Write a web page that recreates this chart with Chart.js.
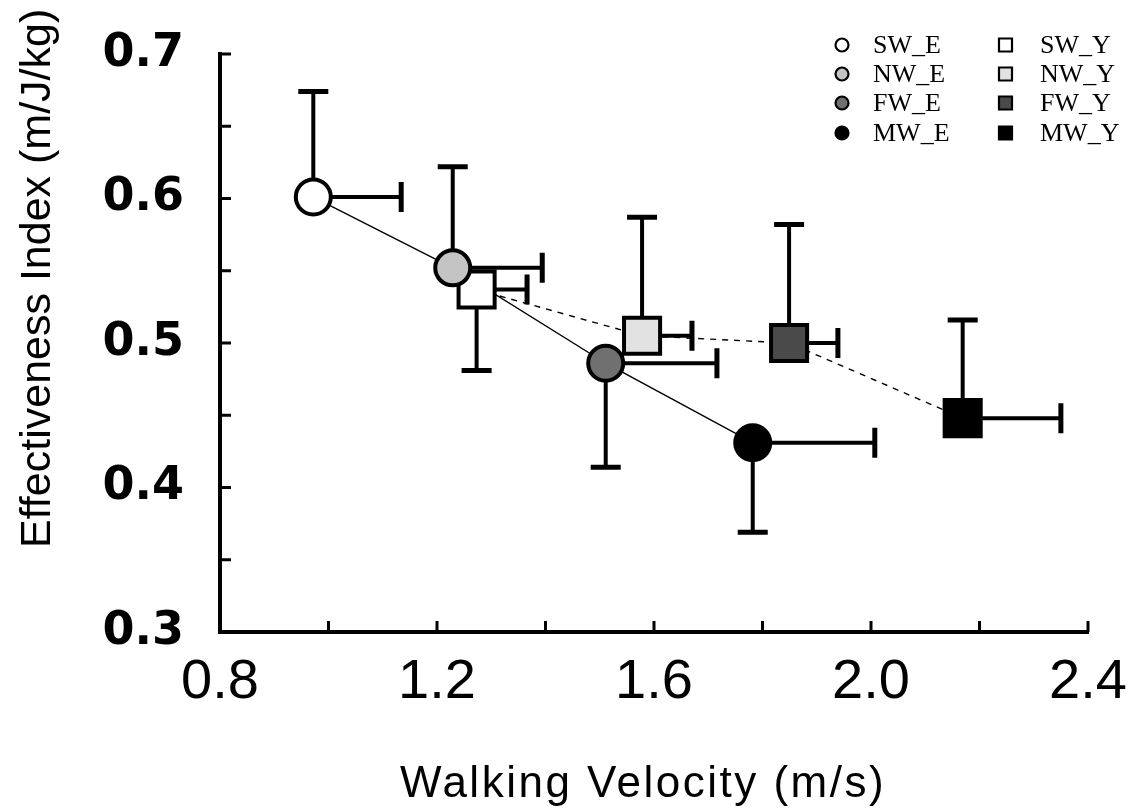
<!DOCTYPE html>
<html>
<head>
<meta charset="utf-8">
<script src="https://cdn.jsdelivr.net/npm/chart.js@4/dist/chart.umd.min.js"></script>
<style>
html,body{margin:0;padding:0;background:#fff;}
canvas{display:block;}
</style>
</head>
<body>
<canvas id="c" width="1132" height="811"></canvas>
<script>
// ---- data ----
const elderlyLabels = ['SW_E', 'NW_E', 'FW_E', 'MW_E'];
const youngLabels = ['SW_Y', 'NW_Y', 'FW_Y', 'MW_Y'];
const elderlyVelocity = [0.972, 1.229, 1.511, 1.782];
const elderlyIndex = [0.601, 0.552, 0.486, 0.431];
const elderlyVelocitySD = [0.162, 0.165, 0.205, 0.225];
const elderlyIndexSD = [0.073, 0.070, 0.072, 0.062];
const elderlyIndexSDSide = [1, 1, -1, -1];
const youngVelocity = [1.273, 1.578, 1.849, 2.169];
const youngIndex = [0.537, 0.505, 0.500, 0.448];
const youngVelocitySD = [0.093, 0.092, 0.090, 0.181];
const youngIndexSD = [0.056, 0.082, 0.082, 0.068];
const youngIndexSDSide = [-1, 1, 1, 1];
const xTickLabels = [0.8, 1.2, 1.6, 2.0, 2.4];
const yTickLabels = [0.3, 0.4, 0.5, 0.6, 0.7];
const xTitle = 'Walking Velocity (m/s)';
const yTitle = 'Effectiveness Index (m/J/kg)';

// ---- styles ----
const elderlyFill = ['#ffffff', '#c4c4c4', '#707070', '#000000'];
const youngFill = ['#ffffff', '#e2e2e2', '#4a4a4a', '#000000'];

const pts = (xs, ys) => xs.map((v, i) => ({x: v, y: ys[i]}));

const errorBars = {
  id: 'errorBars',
  beforeDatasetsDraw(chart) {
    const {ctx, scales: {x, y}} = chart;
    ctx.save();
    ctx.strokeStyle = '#000';
    ctx.lineCap = 'butt';
    const cap = 15;
    const drawSet = (vx, vy, sdx, sdy, side) => {
      vx.forEach((v, i) => {
        const px = x.getPixelForValue(v);
        const py = y.getPixelForValue(vy[i]);
        const ex = x.getPixelForValue(v + sdx[i]);
        const ey = y.getPixelForValue(vy[i] + side[i] * sdy[i]);
        ctx.lineWidth = 4;
        ctx.beginPath();
        ctx.moveTo(px, py); ctx.lineTo(ex, py);
        ctx.moveTo(px, py); ctx.lineTo(px, ey);
        ctx.stroke();
        ctx.lineWidth = 5;
        ctx.beginPath();
        ctx.moveTo(ex, py - cap); ctx.lineTo(ex, py + cap);
        ctx.moveTo(px - cap, ey); ctx.lineTo(px + cap, ey);
        ctx.stroke();
      });
    };
    drawSet(elderlyVelocity, elderlyIndex, elderlyVelocitySD, elderlyIndexSD, elderlyIndexSDSide);
    drawSet(youngVelocity, youngIndex, youngVelocitySD, youngIndexSD, youngIndexSDSide);
    ctx.restore();
  }
};

const innerTicks = {
  id: 'innerTicks',
  afterDraw(chart) {
    const {ctx, chartArea: a, scales: {x, y}} = chart;
    ctx.save();
    ctx.strokeStyle = '#000';
    ctx.lineWidth = 3;
    x.ticks.forEach(t => {
      const px = x.getPixelForValue(t.value);
      if (Math.abs(px - a.left) < 3) return;
      ctx.beginPath(); ctx.moveTo(px, a.bottom); ctx.lineTo(px, a.bottom - 11); ctx.stroke();
    });
    y.ticks.forEach(t => {
      const py = y.getPixelForValue(t.value);
      if (Math.abs(py - a.bottom) < 3) return;
      ctx.beginPath(); ctx.moveTo(a.left, py); ctx.lineTo(a.left + 11, py); ctx.stroke();
    });
    ctx.restore();
  }
};

const axisTitles = {
  id: 'axisTitles',
  afterDraw(chart) {
    const {ctx} = chart;
    ctx.save();
    ctx.fillStyle = '#000';
    ctx.font = '44px "Liberation Sans", Arial, sans-serif';
    ctx.textAlign = 'left';
    ctx.textBaseline = 'alphabetic';
    if ('letterSpacing' in ctx) ctx.letterSpacing = '2.5px';
    ctx.fillText(xTitle, 400, 797);
    if ('letterSpacing' in ctx) ctx.letterSpacing = '0px';
    ctx.translate(50, 548);
    ctx.rotate(-Math.PI / 2);
    ctx.font = '43px "Liberation Sans", Arial, sans-serif';
    ctx.fillText(yTitle, 0, 0);
    ctx.restore();
  }
};

const legendBox = {
  id: 'legendBox',
  afterDraw(chart) {
    const {ctx} = chart;
    const rows = [45, 74, 103, 133];
    ctx.save();
    ctx.font = '26px "Liberation Serif", "Times New Roman", serif';
    ctx.textBaseline = 'middle';
    ctx.textAlign = 'left';
    ctx.lineWidth = 2.2;
    ctx.strokeStyle = '#000';
    rows.forEach((ry, i) => {
      ctx.beginPath();
      ctx.arc(842, ry, 6.5, 0, Math.PI * 2);
      ctx.fillStyle = elderlyFill[i]; ctx.fill(); ctx.stroke();
      ctx.fillStyle = '#000';
      ctx.fillText(elderlyLabels[i], 873, ry + 1);
      ctx.beginPath();
      ctx.rect(999, ry - 6.5, 13, 13);
      ctx.fillStyle = youngFill[i]; ctx.fill(); ctx.stroke();
      ctx.fillStyle = '#000';
      ctx.fillText(youngLabels[i], 1040, ry + 1);
    });
    ctx.restore();
  }
};

const near = (list, v) => list.find(t => Math.abs(t - v) < 1e-6);
const noPad = s => { s.paddingTop = 0; s.paddingBottom = 0; s.paddingLeft = 0; s.paddingRight = 0; };

new Chart(document.getElementById('c'), {
  type: 'scatter',
  data: {
    datasets: [
      {
        label: 'Elderly',
        data: pts(elderlyVelocity, elderlyIndex),
        showLine: false,
        pointStyle: 'circle',
        pointRadius: 17.5,
        pointHoverRadius: 17.5,
        pointBorderWidth: 4,
        pointBorderColor: '#000',
        pointBackgroundColor: elderlyFill
      },
      {
        label: 'Young',
        data: pts(youngVelocity, youngIndex),
        showLine: true,
        borderColor: '#000',
        borderWidth: 1.4,
        borderDash: [6, 6],
        pointStyle: 'rect',
        pointRadius: 25.5,
        pointHoverRadius: 25.5,
        pointBorderWidth: 4,
        pointBorderColor: '#000',
        pointBackgroundColor: youngFill
      },
      {
        label: 'Elderly line',
        data: pts(elderlyVelocity, elderlyIndex),
        showLine: true,
        borderColor: '#000',
        borderWidth: 1.4,
        pointRadius: 0,
        pointHoverRadius: 0
      }
    ]
  },
  options: {
    responsive: false,
    animation: false,
    devicePixelRatio: 1,
    layout: {padding: {left: 0, right: 44, top: 54, bottom: 0}},
    plugins: {legend: {display: false}, tooltip: {enabled: false}},
    events: [],
    scales: {
      x: {
        type: 'linear',
        position: 'bottom',
        min: 0.8,
        max: 2.4,
        ticks: {
          stepSize: 0.2,
          autoSkip: false,
          maxRotation: 0,
          padding: 17,
          color: '#000',
          font: {family: "'Liberation Sans', Arial, sans-serif", size: 56},
          callback: v => { const t = near(xTickLabels, v); return t !== undefined ? t.toFixed(1) : ''; }
        },
        grid: {drawOnChartArea: false, drawTicks: false},
        border: {display: true, width: 4, color: '#000'},
        afterFit: s => { s.height = 179; noPad(s); }
      },
      y: {
        type: 'linear',
        position: 'left',
        min: 0.3,
        max: 0.7,
        ticks: {
          stepSize: 0.05,
          autoSkip: false,
          padding: 36,
          color: '#000',
          font: {family: "'DejaVu Sans', sans-serif", size: 46, weight: 'bold'},
          callback: v => { const t = near(yTickLabels, v); return t !== undefined ? t.toFixed(1) : ''; }
        },
        grid: {drawOnChartArea: false, drawTicks: false},
        border: {display: true, width: 4, color: '#000'},
        afterFit: s => { s.width = 220; noPad(s); }
      }
    }
  },
  plugins: [errorBars, innerTicks, axisTitles, legendBox]
});
</script>
</body>
</html>
